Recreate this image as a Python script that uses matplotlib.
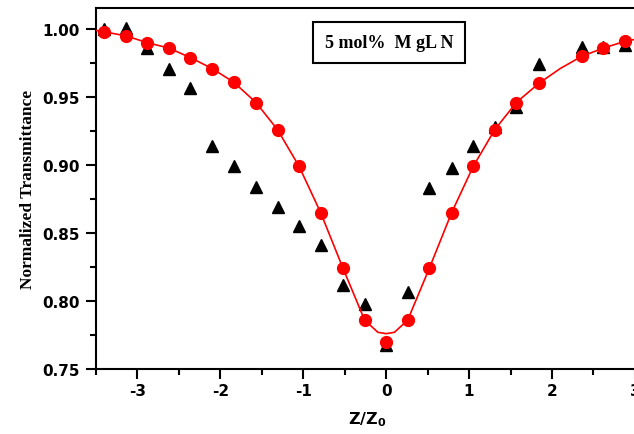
import matplotlib
matplotlib.use("Agg")
import matplotlib.pyplot as plt
from matplotlib.ticker import MultipleLocator

plt.rcParams['axes.unicode_minus'] = False

# Z/Z0 positions and normalized transmittance
z_exp = [-3.40, -3.14, -2.88, -2.62, -2.36, -2.10, -1.84, -1.57, -1.31, -1.05,
         -0.79, -0.52, -0.26, 0.00, 0.26, 0.52, 0.79, 1.05, 1.31, 1.57,
         1.84, 2.36, 2.62, 2.88]
t_exp = [1.000, 1.001, 0.986, 0.971, 0.957, 0.914, 0.899, 0.884, 0.869, 0.855,
         0.841, 0.812, 0.798, 0.768, 0.807, 0.883, 0.898, 0.914, 0.928, 0.943,
         0.974, 0.987, 0.987, 0.988]

z_fit = [-3.40, -3.14, -2.88, -2.62, -2.36, -2.10, -1.84, -1.57, -1.31, -1.05,
         -0.79, -0.52, -0.26, 0.00, 0.26, 0.52, 0.79, 1.05, 1.31, 1.57,
         1.84, 2.36, 2.62, 2.88]
t_fit = [0.998, 0.995, 0.990, 0.986, 0.979, 0.971, 0.961, 0.946, 0.926, 0.899,
         0.865, 0.824, 0.786, 0.770, 0.786, 0.824, 0.865, 0.899, 0.926, 0.946,
         0.960, 0.980, 0.986, 0.991]

# fitted curve
z_line = [-3.50, -3.40, -3.14, -2.88, -2.62, -2.36, -2.10, -1.84, -1.57, -1.31,
          -1.05, -0.79, -0.52, -0.26, -0.10, 0.00, 0.10, 0.26, 0.52, 0.79,
          1.05, 1.31, 1.57, 1.84, 2.10, 2.36, 2.62, 2.88, 3.05]
t_line = [0.999, 0.998, 0.995, 0.990, 0.986, 0.979, 0.971, 0.961, 0.946, 0.926,
          0.899, 0.865, 0.824, 0.786, 0.777, 0.776, 0.777, 0.786, 0.824, 0.865,
          0.899, 0.926, 0.946, 0.960, 0.971, 0.980, 0.986, 0.991, 0.993]

fig = plt.figure(figsize=(6.34, 4.35), dpi=100)
ax = fig.add_axes([0.1514, 0.1494, 0.8565, 0.8299])

ax.plot(z_exp, t_exp, '^', color='black', markersize=8, zorder=2)
ax.plot(z_line, t_line, '-', color='red', linewidth=1.2, zorder=3)
ax.plot(z_fit, t_fit, 'o', color='red', markersize=8.5, zorder=4)

ax.set_xlim(-3.5, 3.05)
ax.set_ylim(0.75, 1.0155)
ax.xaxis.set_major_locator(MultipleLocator(1))
ax.xaxis.set_minor_locator(MultipleLocator(0.5))
ax.yaxis.set_major_locator(MultipleLocator(0.05))
ax.yaxis.set_minor_locator(MultipleLocator(0.025))
ax.yaxis.set_major_formatter(matplotlib.ticker.FormatStrFormatter('%.2f'))

for s in ax.spines.values():
    s.set_linewidth(1.5)
ax.tick_params(which='major', direction='out', length=7, width=1.5, labelsize=11)
ax.tick_params(which='minor', direction='out', length=4, width=1.5)
ax.tick_params(axis='x', pad=3)
ax.tick_params(axis='y', pad=5)
for lab in ax.get_xticklabels() + ax.get_yticklabels():
    lab.set_fontweight('bold')

ax.set_xlabel('Z/Z$_\\mathbf{0}$', fontsize=11.5, fontweight='bold', labelpad=8)
ax.set_ylabel('Normalized Transmittance', fontsize=12.5, fontweight='bold',
              family='Liberation Serif', labelpad=4)

ax.text(0.04, 0.990, '5 mol%  M gL N', ha='center', va='center', fontsize=13,
        fontweight='bold', family='Liberation Serif',
        bbox=dict(boxstyle='square,pad=0.65', facecolor='white',
                  edgecolor='black', linewidth=1.5))

fig.savefig('out.png', dpi=100)
